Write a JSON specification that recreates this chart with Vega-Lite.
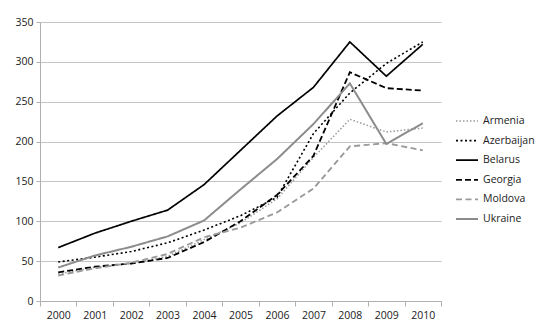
{
  "$schema": "https://vega.github.io/schema/vega-lite/v6.json",
  "width": 401,
  "height": 279,
  "autosize": {"type": "none"},
  "padding": {"left": 40, "top": 22, "right": 109, "bottom": 28},
  "background": "white",
  "data": {
    "values": [
      {"year": "2000", "country": "Armenia", "value": 34},
      {"year": "2001", "country": "Armenia", "value": 42},
      {"year": "2002", "country": "Armenia", "value": 47},
      {"year": "2003", "country": "Armenia", "value": 56},
      {"year": "2004", "country": "Armenia", "value": 77},
      {"year": "2005", "country": "Armenia", "value": 98},
      {"year": "2006", "country": "Armenia", "value": 128},
      {"year": "2007", "country": "Armenia", "value": 180},
      {"year": "2008", "country": "Armenia", "value": 228},
      {"year": "2009", "country": "Armenia", "value": 212},
      {"year": "2010", "country": "Armenia", "value": 217},
      {"year": "2000", "country": "Azerbaijan", "value": 49},
      {"year": "2001", "country": "Azerbaijan", "value": 55},
      {"year": "2002", "country": "Azerbaijan", "value": 62},
      {"year": "2003", "country": "Azerbaijan", "value": 73},
      {"year": "2004", "country": "Azerbaijan", "value": 89},
      {"year": "2005", "country": "Azerbaijan", "value": 107},
      {"year": "2006", "country": "Azerbaijan", "value": 130},
      {"year": "2007", "country": "Azerbaijan", "value": 210},
      {"year": "2008", "country": "Azerbaijan", "value": 261},
      {"year": "2009", "country": "Azerbaijan", "value": 298},
      {"year": "2010", "country": "Azerbaijan", "value": 325},
      {"year": "2000", "country": "Belarus", "value": 67},
      {"year": "2001", "country": "Belarus", "value": 85},
      {"year": "2002", "country": "Belarus", "value": 100},
      {"year": "2003", "country": "Belarus", "value": 114},
      {"year": "2004", "country": "Belarus", "value": 146},
      {"year": "2005", "country": "Belarus", "value": 189},
      {"year": "2006", "country": "Belarus", "value": 232},
      {"year": "2007", "country": "Belarus", "value": 268},
      {"year": "2008", "country": "Belarus", "value": 325},
      {"year": "2009", "country": "Belarus", "value": 282},
      {"year": "2010", "country": "Belarus", "value": 322},
      {"year": "2000", "country": "Georgia", "value": 36},
      {"year": "2001", "country": "Georgia", "value": 43},
      {"year": "2002", "country": "Georgia", "value": 47},
      {"year": "2003", "country": "Georgia", "value": 54},
      {"year": "2004", "country": "Georgia", "value": 74},
      {"year": "2005", "country": "Georgia", "value": 100},
      {"year": "2006", "country": "Georgia", "value": 133},
      {"year": "2007", "country": "Georgia", "value": 182},
      {"year": "2008", "country": "Georgia", "value": 287},
      {"year": "2009", "country": "Georgia", "value": 267},
      {"year": "2010", "country": "Georgia", "value": 264},
      {"year": "2000", "country": "Moldova", "value": 32},
      {"year": "2001", "country": "Moldova", "value": 41},
      {"year": "2002", "country": "Moldova", "value": 48},
      {"year": "2003", "country": "Moldova", "value": 59},
      {"year": "2004", "country": "Moldova", "value": 80},
      {"year": "2005", "country": "Moldova", "value": 92},
      {"year": "2006", "country": "Moldova", "value": 111},
      {"year": "2007", "country": "Moldova", "value": 141},
      {"year": "2008", "country": "Moldova", "value": 194},
      {"year": "2009", "country": "Moldova", "value": 198},
      {"year": "2010", "country": "Moldova", "value": 189},
      {"year": "2000", "country": "Ukraine", "value": 42},
      {"year": "2001", "country": "Ukraine", "value": 57},
      {"year": "2002", "country": "Ukraine", "value": 68},
      {"year": "2003", "country": "Ukraine", "value": 81},
      {"year": "2004", "country": "Ukraine", "value": 101},
      {"year": "2005", "country": "Ukraine", "value": 140},
      {"year": "2006", "country": "Ukraine", "value": 178},
      {"year": "2007", "country": "Ukraine", "value": 222},
      {"year": "2008", "country": "Ukraine", "value": 273},
      {"year": "2009", "country": "Ukraine", "value": 197},
      {"year": "2010", "country": "Ukraine", "value": 223}
    ]
  },
  "mark": {"type": "line", "clip": false},
  "encoding": {
    "x": {
      "field": "year",
      "type": "ordinal",
      "scale": {"type": "band", "paddingInner": 0, "paddingOuter": 0},
      "axis": {
        "title": null,
        "labelAngle": 0,
        "tickBand": "extent",
        "domainColor": "#b0b0b0",
        "tickColor": "#b0b0b0",
        "tickSize": 5,
        "labelPadding": 4
      }
    },
    "y": {
      "field": "value",
      "type": "quantitative",
      "scale": {"domain": [0, 350], "nice": false},
      "axis": {
        "title": null,
        "values": [0, 50, 100, 150, 200, 250, 300, 350],
        "grid": true,
        "gridColor": "#c4c4c4",
        "gridWidth": 1,
        "domainColor": "#b0b0b0",
        "tickColor": "#b0b0b0",
        "tickSize": 4,
        "labelPadding": 3
      }
    },
    "color": {
      "field": "country",
      "type": "nominal",
      "scale": {
        "domain": ["Armenia", "Azerbaijan", "Belarus", "Georgia", "Moldova", "Ukraine"],
        "range": ["#9a9a9a", "#000000", "#000000", "#000000", "#9a9a9a", "#8c8c8c"]
      },
      "legend": {
        "title": null,
        "orient": "none",
        "legendX": 415,
        "legendY": 87,
        "symbolType": "stroke",
        "symbolSize": 484,
        "rowPadding": 1.6,
        "labelOffset": 4
      }
    },
    "strokeDash": {
      "field": "country",
      "type": "nominal",
      "scale": {
        "domain": ["Armenia", "Azerbaijan", "Belarus", "Georgia", "Moldova", "Ukraine"],
        "range": [[1.5, 2], [2, 2.5], [1, 0], [6, 3], [6, 3.5], [1, 0]]
      },
      "legend": null
    },
    "strokeWidth": {
      "field": "country",
      "type": "nominal",
      "scale": {
        "domain": ["Armenia", "Azerbaijan", "Belarus", "Georgia", "Moldova", "Ukraine"],
        "range": [1.5, 2, 2, 2.2, 1.6, 2.2]
      },
      "legend": null
    }
  },
  "config": {
    "view": {"stroke": null},
    "font": "Open Sans",
    "axis": {"labelFont": "Open Sans", "labelFontSize": 10.5, "labelColor": "#222"},
    "legend": {"labelFont": "Open Sans", "labelFontSize": 10.5, "labelColor": "#222"}
  }
}
